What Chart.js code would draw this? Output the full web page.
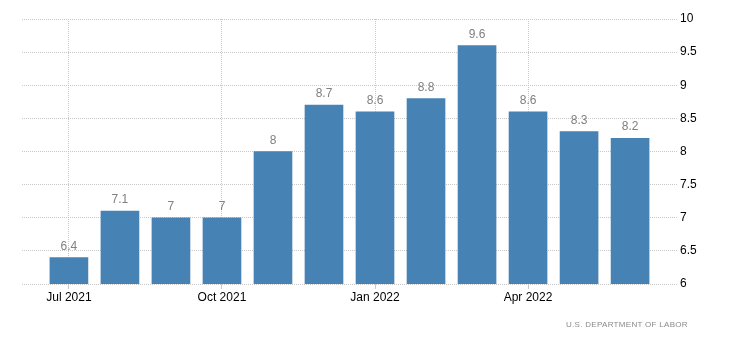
<!DOCTYPE html>
<html>
<head>
<meta charset="utf-8">
<script src="https://cdn.jsdelivr.net/npm/chart.js@4/dist/chart.umd.min.js"></script>
<style>
html,body{margin:0;padding:0;background:#fff;}
#wrap{position:relative;width:730px;height:340px;}
#src{position:absolute;left:566px;top:320px;font-family:"Liberation Sans",Arial,sans-serif;font-size:8px;line-height:10px;letter-spacing:0.3px;color:#8a8a8a;white-space:nowrap;}
</style>
</head>
<body>
<div id="wrap">
<canvas id="c" width="730" height="340"></canvas>
<div id="src">U.S. DEPARTMENT OF LABOR</div>
</div>
<script>
const months = ["Jul 2021","Aug 2021","Sep 2021","Oct 2021","Nov 2021","Dec 2021","Jan 2022","Feb 2022","Mar 2022","Apr 2022","May 2022","Jun 2022"];
const values = [6.4, 7.1, 7, 7, 8, 8.7, 8.6, 8.8, 9.6, 8.6, 8.3, 8.2];
const xTickIndices = [0, 3, 6, 9];
const yTicks = [6, 6.5, 7, 7.5, 8, 8.5, 9, 9.5, 10];

const FONT = '"Liberation Sans", Arial, sans-serif';

const labelPlugin = {
  id: 'valueLabels',
  afterDatasetsDraw(chart) {
    const ctx = chart.ctx;
    const meta = chart.getDatasetMeta(0);
    ctx.save();
    ctx.font = '12px ' + FONT;
    ctx.fillStyle = '#808080';
    ctx.textAlign = 'center';
    ctx.textBaseline = 'alphabetic';
    meta.data.forEach((bar, i) => {
      ctx.fillText(String(values[i]), bar.x, bar.y - 8);
    });
    ctx.restore();
  }
};

new Chart(document.getElementById('c'), {
  type: 'bar',
  data: {
    datasets: [{
      data: values.map((v, i) => ({x: i, y: v})),
      backgroundColor: '#4682b4',
      borderWidth: 0,
      barThickness: 38
    }]
  },
  options: {
    responsive: false,
    animation: false,
    plugins: { legend: {display: false}, tooltip: {enabled: false} },
    layout: { padding: {left: 22, top: 19, right: 0, bottom: 0} },
    scales: {
      x: {
        type: 'linear',
        offset: false,
        min: -0.92,
        max: 11.92,
        afterBuildTicks(scale) { scale.ticks = xTickIndices.map(v => ({value: v})); },
        afterFit(scale) { scale.height = 56; },
        ticks: {
          autoSkip: false,
          maxRotation: 0,
          padding: 1,
          color: '#000',
          font: {family: FONT, size: 12},
          callback: (v) => months[v] || ''
        },
        grid: {
          offset: false,
          color: '#c8c8c8',
          lineWidth: 1,
          tickLength: 5,
          drawTicks: true
        },
        border: {display: false, dash: [1, 1]}
      },
      y: {
        position: 'right',
        min: 6,
        max: 10,
        afterBuildTicks(scale) { scale.ticks = yTicks.map(v => ({value: v})); },
        afterFit(scale) { scale.width = 53; },
        ticks: {
          padding: 3,
          color: '#000',
          font: {family: FONT, size: 12},
          callback: (v) => String(v)
        },
        grid: {
          color: '#c8c8c8',
          lineWidth: 1,
          drawTicks: false
        },
        border: {display: false, dash: [1, 1]}
      }
    }
  },
  plugins: [labelPlugin]
});
</script>
</body>
</html>
